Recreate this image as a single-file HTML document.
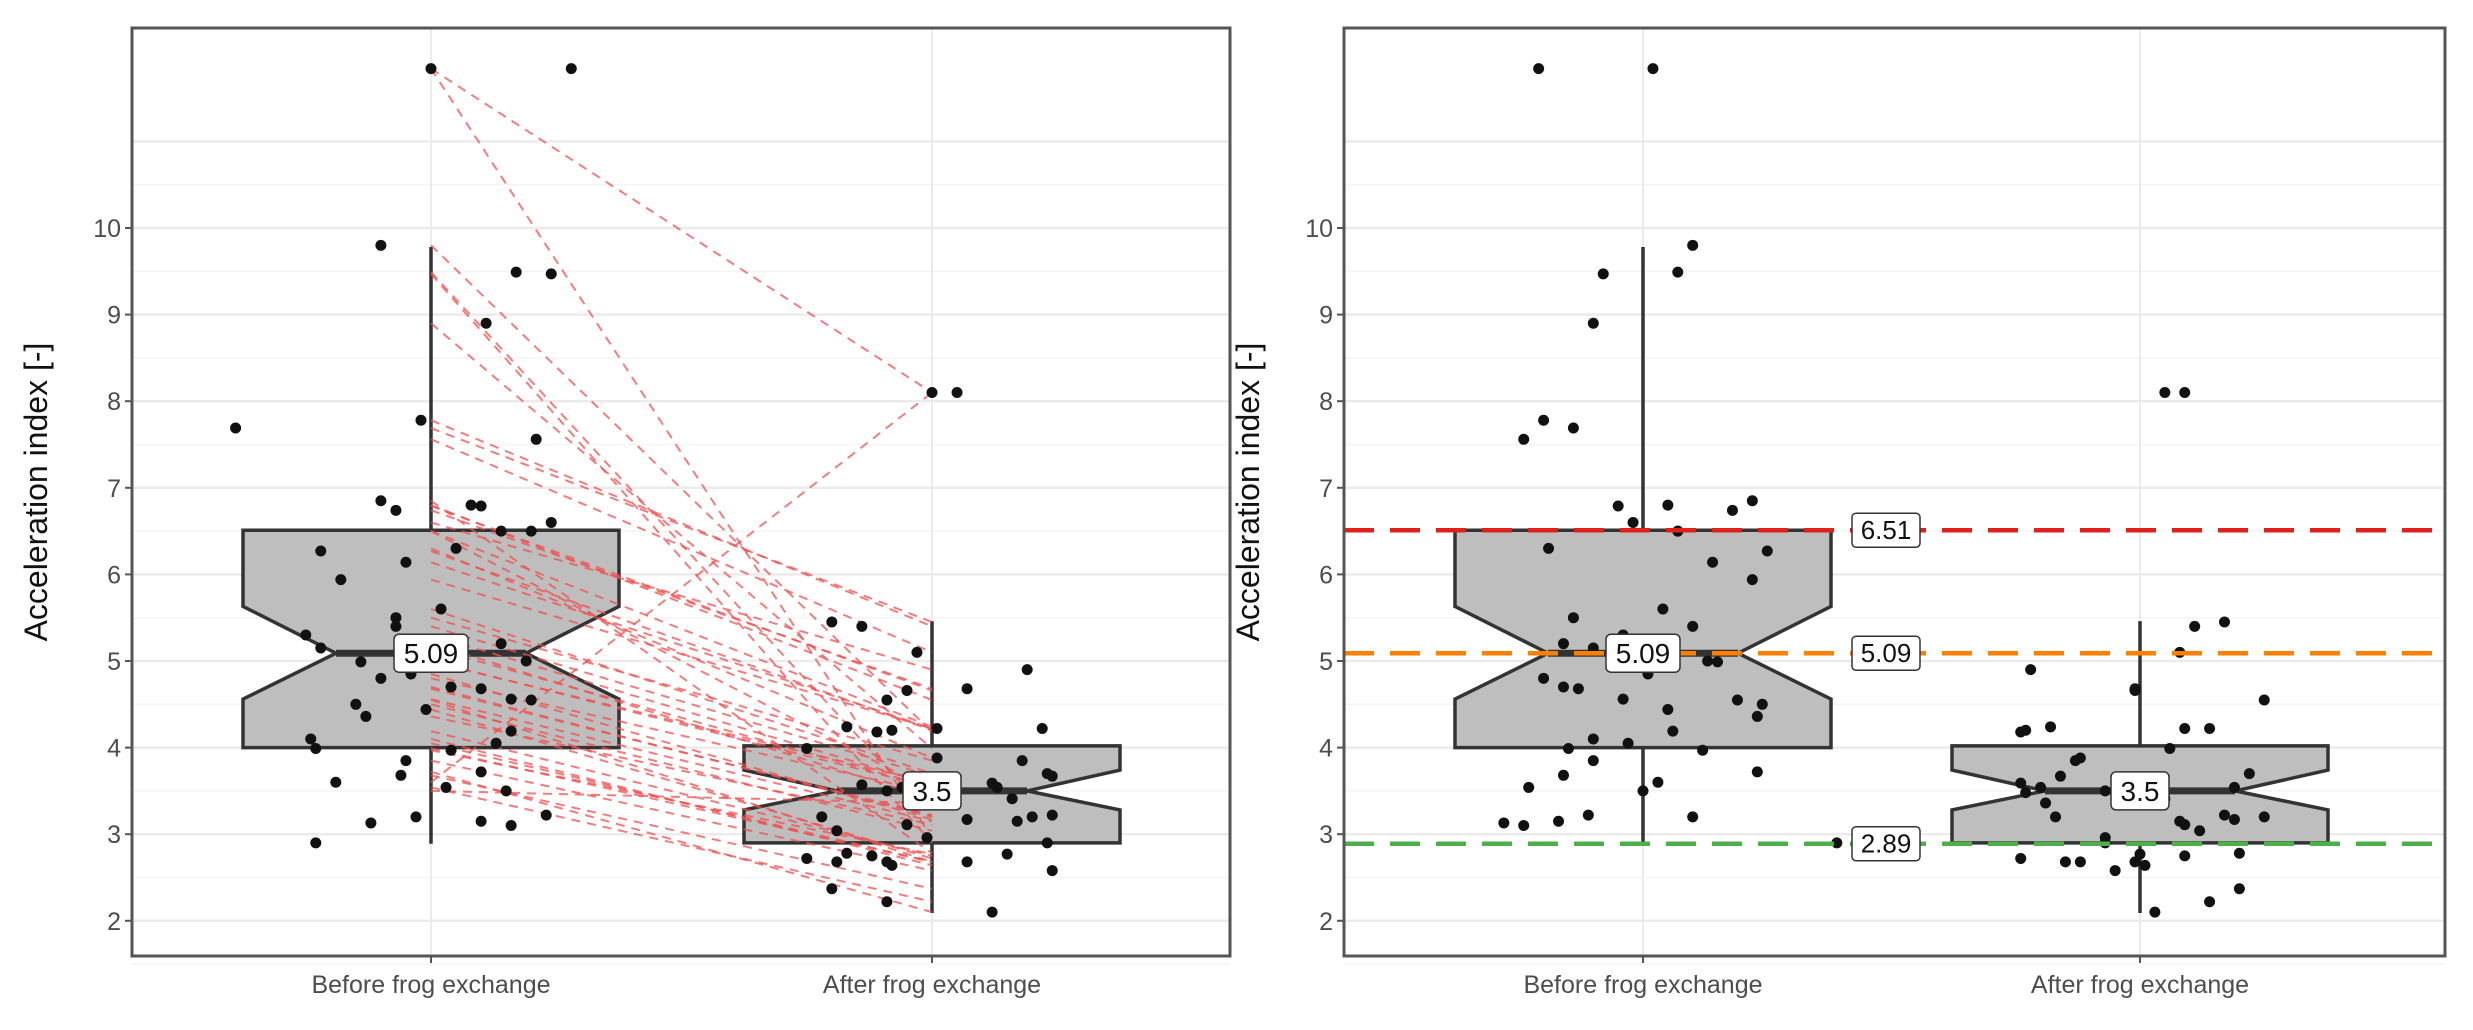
<!DOCTYPE html>
<html><head><meta charset="utf-8"><style>
html,body{margin:0;padding:0;background:#fff;}
svg{display:block;font-family:"Liberation Sans",sans-serif;}
</style></head><body>
<svg id="chart" width="2473" height="1030" viewBox="0 0 2473 1030" xmlns="http://www.w3.org/2000/svg"></svg>
<script>
const categories=["Before frog exchange","After frog exchange"];
const yTicks=[2,3,4,5,6,7,8,9,10];
const beforeVals=[11.84,11.84,9.8,9.49,9.47,8.9,7.69,7.78,7.56,6.85,6.74,6.8,6.79,6.5,6.5,6.6,6.27,5.94,6.14,6.3,5.5,5.4,5.6,5.3,5.15,4.99,5.0,5.2,4.8,4.85,4.7,4.68,4.5,4.36,4.56,4.55,4.44,4.19,4.05,4.1,3.99,3.97,3.6,3.85,3.68,3.54,3.72,3.5,3.13,3.2,3.15,3.1,3.22,2.9];
const afterVals=[8.1,8.1,5.45,5.4,5.1,4.68,4.9,4.55,4.66,4.24,4.18,4.2,4.22,4.22,3.99,3.88,3.85,3.67,3.7,3.57,3.5,3.54,3.59,3.54,3.41,3.2,3.48,3.17,3.2,3.22,3.04,3.11,3.15,2.9,2.68,2.72,2.78,2.75,2.68,2.64,2.68,2.77,2.58,2.37,2.22,2.1,2.96,3.36];
const pairIndex=[0,46,10,25,33,14,2,3,4,36,5,7,8,20,9,6,11,12,13,15,16,17,18,19,21,22,23,24,26,27,28,29,30,31,32,34,35,37,38,39,40,41,1,42,43,44,45,47];
const beforeJitter=[0,0.28,-0.1,0.17,0.24,0.11,-0.39,-0.02,0.21,-0.1,-0.07,0.08,0.1,0.14,0.2,0.24,-0.22,-0.18,-0.05,0.05,-0.07,-0.07,0.02,-0.25,-0.22,-0.14,0.19,0.14,-0.1,-0.04,0.04,0.1,-0.15,-0.13,0.16,0.2,-0.01,0.16,0.13,-0.24,-0.23,0.04,-0.19,-0.05,-0.06,0.03,0.1,0.15,-0.12,-0.03,0.1,0.16,0.23,-0.23];
const afterJitter=[0,0.05,-0.2,-0.14,-0.03,0.07,0.19,-0.09,-0.05,-0.17,-0.11,-0.08,0.01,0.22,-0.25,0.01,0.18,0.24,0.23,-0.14,-0.09,-0.06,0.12,0.13,0.16,-0.22,0.04,0.07,0.2,0.24,-0.19,-0.05,0.17,0.23,-0.19,-0.25,-0.17,-0.12,-0.09,-0.08,0.07,0.15,0.24,-0.2,-0.09,0.12,-0.01,0.01];
const boxStats=[{lo:2.89,q1:4.0,med:5.09,q3:6.51,hi:9.78,nlo:4.56,nhi:5.63},{lo:2.09,q1:2.9,med:3.5,q3:4.02,hi:5.46,nlo:3.28,nhi:3.74}];
const medianLabels=["5.09","3.5"];
const refValues=[6.51,5.09,2.89];
const refLabels=["6.51","5.09","2.89"];
const refColors=["#e0201b","#ff8000","#4caf4a"];

const NS="http://www.w3.org/2000/svg";
const svg=document.getElementById('chart');
function mk(tag,attrs,parent){const e=document.createElementNS(NS,tag);for(const k in attrs)e.setAttribute(k,attrs[k]);(parent||svg).appendChild(e);return e;}
const Y0=956,Y1=28;
function yScale(v){return 228+(10-v)*86.6;}

function panel(px0,px1,c1,c2,idx){
  const g=mk('g',{});
  
  
  const catX=[c1,c2];
  const spacing=c2-c1;
  function xScale(i,j){return catX[i]+j*spacing;}
  for(let v=1.5;v<=11.01;v+=0.5){
    const y=yScale(v);
    const l=mk('line',{x1:px0,x2:px1,y1:y,y2:y,stroke:(Math.abs(v-Math.round(v))<0.01)?'#ebebeb':'#f4f4f4','stroke-width':Math.abs(v-Math.round(v))<0.01?2.5:1.5},g);
    
    
  }
  catX.forEach(x=>{const l=mk('line',{x1:x,x2:x,y1:Y1,y2:Y0,stroke:'#ebebeb','stroke-width':2},g);
    });
  boxStats.forEach((b,i)=>{
    const cx=catX[i],hw=188,nw=95;
    const bg=mk('g',{},g);
    
    
    mk('line',{x1:cx,x2:cx,y1:yScale(b.hi),y2:yScale(b.q3),stroke:'#333','stroke-width':3.5},bg);
    mk('line',{x1:cx,x2:cx,y1:yScale(b.q1),y2:yScale(b.lo),stroke:'#333','stroke-width':3.5},bg);
    const pts=[[cx-hw,yScale(b.q3)],[cx+hw,yScale(b.q3)],[cx+hw,yScale(b.nhi)],[cx+nw,yScale(b.med)],[cx+hw,yScale(b.nlo)],[cx+hw,yScale(b.q1)],[cx-hw,yScale(b.q1)],[cx-hw,yScale(b.nlo)],[cx-nw,yScale(b.med)],[cx-hw,yScale(b.nhi)]];
    mk('polygon',{points:pts.map(p=>p.join(',')).join(' '),fill:'#bebebe',stroke:'#333','stroke-width':3.5},bg);
    mk('line',{x1:cx-nw,x2:cx+nw,y1:yScale(b.med),y2:yScale(b.med),stroke:'#333','stroke-width':7},bg);
  });
  if(idx===1){
    for(let k=0;k<pairIndex.length;k++){
      const l=mk('line',{x1:xScale(0,0),y1:yScale(beforeVals[k]),x2:xScale(1,0),y2:yScale(afterVals[pairIndex[k]]),stroke:'#f05050','stroke-width':2,'stroke-dasharray':'9,7','stroke-opacity':0.75},g);
      
      
    }
  }
  [[beforeVals,beforeJitter],[afterVals,afterJitter]].forEach(([vals,jit],i)=>{
    vals.forEach((v,k)=>{
      const j=idx===1?jit[k]:-jit[(k+7)%jit.length];
      const c=mk('circle',{cx:xScale(i,j),cy:yScale(v),r:5.5,fill:'#111'},g);
      
      
    });
  });
  if(idx===2){
    refValues.forEach((v,k)=>{
      const l=mk('line',{x1:px0,x2:px1,y1:yScale(v),y2:yScale(v),stroke:refColors[k],'stroke-width':4.5,'stroke-dasharray':'30,16'},g);
      
      
      const lx=1886;
      const r=mk('rect',{x:lx-34,y:yScale(v)-17,width:68,height:34,rx:4,fill:'#fff',stroke:'#333','stroke-width':1.5},g);
      
      
      const t=mk('text',{x:lx,y:yScale(v)+9,'font-size':26,'text-anchor':'middle',fill:'#111'},g);
      t.textContent=refLabels[k];
      
      
    });
  }
  boxStats.forEach((b,i)=>{
    const cx=catX[i],w=medianLabels[i].length>3?74:58;
    const r=mk('rect',{x:cx-w/2,y:yScale(b.med)-19,width:w,height:38,rx:5,fill:'#fff',stroke:'#333','stroke-width':1.5},g);
    
    
    const t=mk('text',{x:cx,y:yScale(b.med)+10,'font-size':28,'text-anchor':'middle',fill:'#111'},g);
    t.textContent=medianLabels[i];
    
    
  });
  const br=mk('rect',{x:px0,y:Y1,width:px1-px0,height:Y0-Y1,fill:'none',stroke:'#555','stroke-width':3},g);
  
  
  yTicks.forEach(v=>{
    const y=yScale(v);
    mk('line',{x1:px0-7,x2:px0,y1:y,y2:y,stroke:'#555','stroke-width':2},g);
    const t=mk('text',{x:px0-11,y:y+9,'font-size':25,'text-anchor':'end',fill:'#4d4d4d'},g);
    t.textContent=v;
    
    
  });
  catX.forEach((x,i)=>{
    mk('line',{x1:x,x2:x,y1:Y0,y2:Y0+7,stroke:'#555','stroke-width':2},g);
    const t=mk('text',{x:x,y:993,'font-size':25,'text-anchor':'middle',fill:'#4d4d4d'},g);
    t.textContent=categories[i];
    
    
  });
  const tx=px0-85;
  const yt=mk('text',{x:tx,y:(Y0+Y1)/2,'font-size':32,'text-anchor':'middle',fill:'#111',transform:'rotate(-90 '+tx+' '+((Y0+Y1)/2)+')'},g);
  yt.textContent='Acceleration index [-]';
  
  
}
panel(132,1230,431,932,1);
panel(1344,2445,1643,2140,2);
</script>
</body></html>
